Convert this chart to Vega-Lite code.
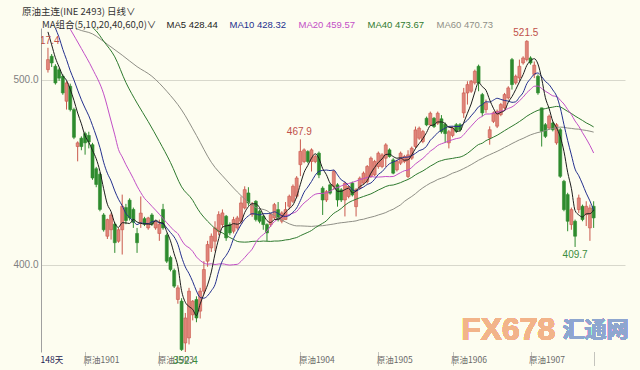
{
  "$schema": "https://vega.github.io/schema/vega-lite/v6.json",
  "width": 584,
  "height": 324,
  "autosize": {"type": "none"},
  "padding": {"left": 41, "top": 28, "right": 15, "bottom": 18},
  "background": "#fdfdf0",
  "config": {"view": {"stroke": null}, "font": "Liberation Sans"},
  "title": {
    "text": "原油主连(INE 2493)  日线∨",
    "anchor": "start",
    "frame": "group",
    "dx": -19,
    "offset": 3.5,
    "fontSize": 9.5,
    "fontWeight": "normal",
    "font": "Noto Sans CJK SC",
    "color": "#333333"
  },
  "data": {
    "values": [
      {"d":0,"o":505.6,"h":517.4,"l":504,"c":511,"m5":526,"m10":538,"m20":546,"m40":545,"m60":538},
      {"d":1,"o":512.8,"h":514,"l":507,"c":509.2,"m5":519,"m10":533,"m20":null,"m40":null,"m60":null},
      {"d":2,"o":507.4,"h":508.5,"l":497.5,"c":498.4,"m5":512,"m10":528,"m20":null,"m40":null,"m60":null},
      {"d":3,"o":505.5,"h":506.5,"l":499.5,"c":501,"m5":507,"m10":523,"m20":538,"m40":null,"m60":null},
      {"d":4,"o":502,"h":503,"l":492,"c":493,"m5":502.3,"m10":516.5,"m20":null,"m40":null,"m60":533},
      {"d":5,"o":488.5,"h":499.3,"l":484,"c":498.4,"m5":499.8,"m10":511,"m20":null,"m40":null,"m60":null},
      {"d":6,"o":496.6,"h":498,"l":483,"c":484,"m5":494.9,"m10":505,"m20":527.5,"m40":537,"m60":null},
      {"d":7,"o":484,"h":485,"l":468,"c":469,"m5":489,"m10":500,"m20":null,"m40":null,"m60":null},
      {"d":8,"o":464,"h":466.8,"l":456,"c":466,"m5":482.1,"m10":494.5,"m20":null,"m40":null,"m60":527.5},
      {"d":9,"o":468.5,"h":469.5,"l":462,"c":464,"m5":476.3,"m10":489.3,"m20":517,"m40":null,"m60":null},
      {"d":10,"o":471,"h":472,"l":459.6,"c":466,"m5":469.8,"m10":484.8,"m20":null,"m40":531,"m60":null},
      {"d":11,"o":470,"h":472,"l":463,"c":466.5,"m5":466.3,"m10":480.6,"m20":null,"m40":null,"m60":null},
      {"d":12,"o":465,"h":466,"l":446,"c":447,"m5":461.9,"m10":475.4,"m20":506,"m40":null,"m60":524.9},
      {"d":13,"o":452,"h":453,"l":442,"c":443.5,"m5":457.4,"m10":469.7,"m20":null,"m40":526.5,"m60":null},
      {"d":14,"o":449,"h":450,"l":429,"c":430,"m5":450.6,"m10":463.4,"m20":null,"m40":null,"m60":null},
      {"d":15,"o":427,"h":428,"l":418,"c":419,"m5":441.2,"m10":455.5,"m20":492.5,"m40":521,"m60":null},
      {"d":16,"o":415.5,"h":425,"l":414,"c":424.5,"m5":432.8,"m10":449.6,"m20":null,"m40":null,"m60":519.3},
      {"d":17,"o":419,"h":428,"l":413.7,"c":427,"m5":428.8,"m10":445.4,"m20":477.8,"m40":null,"m60":null},
      {"d":18,"o":422,"h":423,"l":406.5,"c":412,"m5":422.5,"m10":440,"m20":470.3,"m40":512.5,"m60":null},
      {"d":19,"o":412.8,"h":420,"l":412,"c":419,"m5":420.3,"m10":435.5,"m20":462.4,"m40":null,"m60":null},
      {"d":20,"o":419,"h":438,"l":405.6,"c":431.7,"m5":422.8,"m10":432,"m20":458.4,"m40":null,"m60":513.4},
      {"d":21,"o":431,"h":433,"l":422,"c":424,"m5":422.7,"m10":427.8,"m20":454.2,"m40":498.6,"m60":null},
      {"d":22,"o":435,"h":436,"l":424,"c":425.4,"m5":422.4,"m10":425.6,"m20":450.5,"m40":null,"m60":null},
      {"d":23,"o":430,"h":431,"l":420,"c":423,"m5":424.6,"m10":423.6,"m20":446.7,"m40":null,"m60":null},
      {"d":24,"o":417,"h":420,"l":406.5,"c":412,"m5":423.2,"m10":421.8,"m20":442.6,"m40":487.5,"m60":507.2},
      {"d":25,"o":423,"h":437,"l":420,"c":428,"m5":422.5,"m10":422.7,"m20":439.1,"m40":null,"m60":null},
      {"d":26,"o":425,"h":426,"l":421,"c":422,"m5":422.1,"m10":422.4,"m20":436,"m40":null,"m60":null},
      {"d":27,"o":420,"h":426,"l":419,"c":425.4,"m5":422.1,"m10":422.3,"m20":433.9,"m40":477.5,"m60":null},
      {"d":28,"o":427,"h":428,"l":421,"c":422,"m5":421.9,"m10":423.3,"m20":431.7,"m40":null,"m60":502},
      {"d":29,"o":420,"h":424,"l":419,"c":423.6,"m5":424.2,"m10":423.7,"m20":429.6,"m40":null,"m60":null},
      {"d":30,"o":417,"h":424.5,"l":413,"c":422,"m5":423,"m10":422.7,"m20":427.4,"m40":466.8,"m60":null},
      {"d":31,"o":430,"h":433,"l":419,"c":420,"m5":422.6,"m10":422.3,"m20":425.1,"m40":null,"m60":null},
      {"d":32,"o":416,"h":417,"l":401,"c":402,"m5":417.9,"m10":420,"m20":422.8,"m40":null,"m60":493.9},
      {"d":33,"o":404,"h":405,"l":396.5,"c":397.5,"m5":413,"m10":417.5,"m20":420.6,"m40":455.4,"m60":null},
      {"d":34,"o":397,"h":398,"l":387.5,"c":388.5,"m5":406,"m10":415.1,"m20":418.5,"m40":null,"m60":null},
      {"d":35,"o":381.3,"h":389,"l":379,"c":387.6,"m5":399.1,"m10":411.1,"m20":416.9,"m40":null,"m60":null},
      {"d":36,"o":380.4,"h":382,"l":353.5,"c":354.2,"m5":386,"m10":404.3,"m20":413.4,"m40":442.2,"m60":483.8},
      {"d":37,"o":357.8,"h":374,"l":352.4,"c":371.3,"m5":379.8,"m10":398.9,"m20":410.6,"m40":null,"m60":null},
      {"d":38,"o":360.5,"h":387.6,"l":357,"c":385.8,"m5":377.5,"m10":395.3,"m20":409.3,"m40":null,"m60":null},
      {"d":39,"o":373,"h":381,"l":370,"c":380.4,"m5":375.9,"m10":390.9,"m20":407.3,"m40":434.9,"m60":null},
      {"d":40,"o":381.3,"h":383,"l":369,"c":371.3,"m5":372.6,"m10":385.9,"m20":404.3,"m40":431.4,"m60":470},
      {"d":41,"o":375,"h":387.6,"l":371,"c":385.8,"m5":378.9,"m10":382.4,"m20":402.4,"m40":428.3,"m60":null},
      {"d":42,"o":385.8,"h":402,"l":384,"c":397.5,"m5":384.2,"m10":382,"m20":401,"m40":425.8,"m60":null},
      {"d":43,"o":402,"h":413,"l":399,"c":411,"m5":389.2,"m10":383.3,"m20":400.4,"m40":423.6,"m60":null},
      {"d":44,"o":409.2,"h":417,"l":407,"c":415.5,"m5":396.2,"m10":386,"m20":400.6,"m40":421.6,"m60":455.5},
      {"d":45,"o":412.8,"h":423.6,"l":407.4,"c":420,"m5":406,"m10":389.3,"m20":400.2,"m40":419.7,"m60":null},
      {"d":46,"o":418,"h":429,"l":416,"c":427.2,"m5":414.2,"m10":396.6,"m20":400.5,"m40":418.3,"m60":null},
      {"d":47,"o":421.8,"h":430,"l":420,"c":428.1,"m5":420.4,"m10":402.3,"m20":400.6,"m40":417.3,"m60":null},
      {"d":48,"o":426.3,"h":427,"l":413,"c":414.6,"m5":421.1,"m10":405.1,"m20":400.2,"m40":416,"m60":446},
      {"d":49,"o":421.8,"h":423,"l":416,"c":417.3,"m5":421.4,"m10":408.8,"m20":399.9,"m40":414.8,"m60":null},
      {"d":50,"o":418.2,"h":426,"l":417,"c":424.5,"m5":422.3,"m10":414.2,"m20":400.1,"m40":413.8,"m60":null},
      {"d":51,"o":420,"h":426.5,"l":419,"c":425.4,"m5":422,"m10":418.1,"m20":400.3,"m40":412.7,"m60":null},
      {"d":52,"o":423.6,"h":437,"l":422,"c":433.5,"m5":423.1,"m10":421.7,"m20":401.9,"m40":412.4,"m60":437.5},
      {"d":53,"o":430.8,"h":442.5,"l":430,"c":440.7,"m5":428.3,"m10":424.7,"m20":404,"m40":412.3,"m60":null},
      {"d":54,"o":438.9,"h":442,"l":432,"c":433.5,"m5":431.5,"m10":426.5,"m20":406.3,"m40":412.4,"m60":null},
      {"d":55,"o":427.2,"h":434,"l":426,"c":432.6,"m5":433.1,"m10":427.7,"m20":408.5,"m40":412.7,"m60":null},
      {"d":56,"o":434.4,"h":435,"l":423.5,"c":424.5,"m5":433,"m10":427.5,"m20":412.1,"m40":412.8,"m60":431},
      {"d":57,"o":429,"h":430,"l":422.5,"c":423.6,"m5":431,"m10":427,"m20":414.7,"m40":412.7,"m60":null},
      {"d":58,"o":426.3,"h":427,"l":419,"c":421.8,"m5":427.2,"m10":427.7,"m20":416.4,"m40":412.9,"m60":null},
      {"d":59,"o":421.8,"h":422.5,"l":412.8,"c":417.3,"m5":424,"m10":427.7,"m20":418.3,"m40":412.8,"m60":429.3},
      {"d":60,"o":421.8,"h":428,"l":420.5,"c":427.2,"m5":422.9,"m10":428,"m20":421.1,"m40":412.7,"m60":427.9},
      {"d":61,"o":425.4,"h":433.5,"l":424.5,"c":432.6,"m5":424.5,"m10":428.7,"m20":423.4,"m40":412.9,"m60":426.7},
      {"d":62,"o":429.9,"h":434,"l":423.5,"c":424.5,"m5":424.7,"m10":427.8,"m20":424.8,"m40":412.9,"m60":425.4},
      {"d":63,"o":423.6,"h":429,"l":422.5,"c":428.1,"m5":425.9,"m10":426.6,"m20":425.7,"m40":413.1,"m60":424.3},
      {"d":64,"o":424.5,"h":434,"l":424.5,"c":429.9,"m5":428.5,"m10":426.2,"m20":426.4,"m40":413.5,"m60":423.2},
      {"d":65,"o":431.7,"h":438,"l":430,"c":437.1,"m5":430.4,"m10":426.7,"m20":427.2,"m40":413.7,"m60":422.2},
      {"d":66,"o":434.4,"h":443.5,"l":433.5,"c":442.5,"m5":432.4,"m10":428.5,"m20":428,"m40":414.3,"m60":421.5},
      {"d":67,"o":437.1,"h":448,"l":436,"c":447,"m5":436.9,"m10":430.8,"m20":428.9,"m40":414.8,"m60":421.1},
      {"d":68,"o":454.2,"h":467.9,"l":448,"c":461.4,"m5":443.6,"m10":434.8,"m20":431.3,"m40":415.8,"m60":421.1},
      {"d":69,"o":455.9,"h":463,"l":455,"c":462.2,"m5":450,"m10":439.3,"m20":433.5,"m40":416.7,"m60":421},
      {"d":70,"o":461.3,"h":462,"l":455,"c":455.9,"m5":453.8,"m10":442.1,"m20":435.1,"m40":417.6,"m60":420.9},
      {"d":71,"o":455.9,"h":463,"l":450.5,"c":462.2,"m5":457.7,"m10":445.1,"m20":436.9,"m40":418.6,"m60":420.8},
      {"d":72,"o":455.9,"h":459.5,"l":455,"c":458.6,"m5":460.1,"m10":448.5,"m20":438.2,"m40":420.1,"m60":421},
      {"d":73,"o":460.4,"h":461.3,"l":446.9,"c":448.7,"m5":457.5,"m10":450.6,"m20":438.6,"m40":421.3,"m60":421.1},
      {"d":74,"o":441.5,"h":442.5,"l":427,"c":435.1,"m5":452.1,"m10":451.1,"m20":438.7,"m40":422.5,"m60":421.2},
      {"d":75,"o":435.1,"h":440.5,"l":434,"c":439.6,"m5":448.8,"m10":451.3,"m20":439,"m40":423.8,"m60":421.5},
      {"d":76,"o":443.3,"h":444,"l":438,"c":438.8,"m5":444.2,"m10":451,"m20":439.8,"m40":426,"m60":421.8},
      {"d":77,"o":442.4,"h":451.4,"l":440.6,"c":450.5,"m5":442.5,"m10":451.3,"m20":441.1,"m40":427.9,"m60":422.1},
      {"d":78,"o":443.3,"h":444.2,"l":431.5,"c":435.1,"m5":439.8,"m10":448.7,"m20":441.8,"m40":429.1,"m60":422.5},
      {"d":79,"o":440.6,"h":441.5,"l":434,"c":435.1,"m5":439.8,"m10":446,"m20":442.7,"m40":430.5,"m60":422.8},
      {"d":80,"o":435.1,"h":445,"l":426.2,"c":444.2,"m5":440.7,"m10":444.8,"m20":443.5,"m40":432.3,"m60":423},
      {"d":81,"o":437,"h":443,"l":436,"c":442.4,"m5":441.5,"m10":442.8,"m20":444,"m40":433.7,"m60":423.3},
      {"d":82,"o":444.2,"h":445,"l":437,"c":437.8,"m5":438.9,"m10":440.7,"m20":444.6,"m40":434.7,"m60":423.5},
      {"d":83,"o":431.5,"h":441.5,"l":426.2,"c":440.6,"m5":440,"m10":439.9,"m20":445.3,"m40":435.5,"m60":423.8},
      {"d":84,"o":441.5,"h":447.8,"l":440.6,"c":446.9,"m5":442.4,"m10":441.1,"m20":446.1,"m40":436.3,"m60":424.4},
      {"d":85,"o":444.2,"h":450.5,"l":443.3,"c":449.6,"m5":443.5,"m10":442.1,"m20":446.7,"m40":437,"m60":424.7},
      {"d":86,"o":445,"h":454,"l":444,"c":453.2,"m5":445.6,"m10":443.5,"m20":447.3,"m40":437.7,"m60":425.3},
      {"d":87,"o":447.8,"h":458.6,"l":447,"c":457.7,"m5":449.6,"m10":444.3,"m20":447.8,"m40":438.4,"m60":425.8},
      {"d":88,"o":448.7,"h":456.8,"l":448,"c":455.9,"m5":452.7,"m10":446.3,"m20":447.5,"m40":439.4,"m60":426.3},
      {"d":89,"o":453.2,"h":461.3,"l":452,"c":460.4,"m5":455.4,"m10":448.9,"m20":447.5,"m40":440.5,"m60":427},
      {"d":90,"o":453.2,"h":460.4,"l":452.3,"c":459.5,"m5":457.3,"m10":450.4,"m20":447.6,"m40":441.4,"m60":427.6},
      {"d":91,"o":457.7,"h":465.8,"l":453,"c":464.9,"m5":459.7,"m10":452.7,"m20":447.8,"m40":442.4,"m60":428.3},
      {"d":92,"o":462.2,"h":463,"l":458,"c":458.6,"m5":459.9,"m10":454.7,"m20":447.7,"m40":443,"m60":429.3},
      {"d":93,"o":456.8,"h":457.7,"l":449,"c":449.6,"m5":458.6,"m10":455.6,"m20":447.8,"m40":443.2,"m60":430.1},
      {"d":94,"o":451.4,"h":456.8,"l":450.5,"c":455.9,"m5":457.7,"m10":456.5,"m20":448.8,"m40":443.8,"m60":431.3},
      {"d":95,"o":455,"h":461.3,"l":454,"c":460.4,"m5":457.9,"m10":457.6,"m20":449.9,"m40":444.5,"m60":432.5},
      {"d":96,"o":455.9,"h":459.5,"l":455,"c":458.6,"m5":456.6,"m10":458.2,"m20":450.9,"m40":445.4,"m60":434.3},
      {"d":97,"o":447.8,"h":462,"l":446.9,"c":459.5,"m5":456.8,"m10":458.3,"m20":451.3,"m40":446.2,"m60":435.7},
      {"d":98,"o":457.7,"h":464,"l":456.8,"c":463.1,"m5":459.5,"m10":459.1,"m20":452.7,"m40":447.3,"m60":437},
      {"d":99,"o":464,"h":474.8,"l":463,"c":473,"m5":462.9,"m10":460.3,"m20":454.6,"m40":448.7,"m60":438.5},
      {"d":100,"o":468.5,"h":474.8,"l":467.6,"c":473.9,"m5":465.6,"m10":461.8,"m20":456.1,"m40":449.8,"m60":440.2},
      {"d":101,"o":466.7,"h":473,"l":465.8,"c":472.1,"m5":468.3,"m10":462.5,"m20":457.6,"m40":450.8,"m60":441.7},
      {"d":102,"o":479.3,"h":480.2,"l":475,"c":475.7,"m5":471.6,"m10":464.2,"m20":459.5,"m40":452.1,"m60":443},
      {"d":103,"o":475.7,"h":482.9,"l":475,"c":482,"m5":475.3,"m10":467.4,"m20":461.5,"m40":453.4,"m60":444.2},
      {"d":104,"o":479.3,"h":480,"l":474,"c":474.8,"m5":475.7,"m10":469.3,"m20":462.9,"m40":454.5,"m60":445.1},
      {"d":105,"o":476.6,"h":482.9,"l":475.7,"c":482,"m5":477.3,"m10":471.5,"m20":464.6,"m40":455.7,"m60":446.2},
      {"d":106,"o":479,"h":481,"l":471,"c":472,"m5":477.3,"m10":472.8,"m20":465.5,"m40":456.4,"m60":446.9},
      {"d":107,"o":476,"h":477,"l":466,"c":471,"m5":476.4,"m10":474,"m20":466.2,"m40":457,"m60":447.6},
      {"d":108,"o":466,"h":473,"l":463,"c":472,"m5":474.4,"m10":474.9,"m20":467,"m40":457.3,"m60":448.6},
      {"d":109,"o":470,"h":475,"l":469,"c":474,"m5":474.2,"m10":475,"m20":467.7,"m40":457.6,"m60":449.6},
      {"d":110,"o":475.8,"h":476.7,"l":471.3,"c":472.2,"m5":472.2,"m10":474.8,"m20":468.3,"m40":458,"m60":450.3},
      {"d":111,"o":475.8,"h":476.7,"l":472,"c":473.1,"m5":472.5,"m10":474.9,"m20":468.7,"m40":458.3,"m60":451.1},
      {"d":112,"o":482.2,"h":495.7,"l":479.5,"c":493,"m5":476.9,"m10":476.6,"m20":470.4,"m40":459.1,"m60":452.1},
      {"d":113,"o":493,"h":499.3,"l":486.7,"c":497.5,"m5":482,"m10":478.2,"m20":472.8,"m40":460.3,"m60":453.1},
      {"d":114,"o":493.9,"h":500,"l":493,"c":499.3,"m5":487,"m10":480.6,"m20":475,"m40":461.9,"m60":454.2},
      {"d":115,"o":498.4,"h":505.6,"l":497.5,"c":504.7,"m5":493.5,"m10":482.9,"m20":477.2,"m40":463.6,"m60":455.4},
      {"d":116,"o":507.4,"h":508.3,"l":493.9,"c":498.4,"m5":498.6,"m10":485.5,"m20":479.2,"m40":465.1,"m60":456.6},
      {"d":117,"o":492.1,"h":493,"l":480.4,"c":482.2,"m5":496.4,"m10":486.6,"m20":480.3,"m40":465.8,"m60":457.6},
      {"d":118,"o":484,"h":489.4,"l":482.2,"c":487.6,"m5":494.4,"m10":488.2,"m20":481.6,"m40":467.2,"m60":458.7},
      {"d":119,"o":468.7,"h":474.9,"l":465,"c":473.1,"m5":489.2,"m10":488.1,"m20":481.6,"m40":468.1,"m60":459.6},
      {"d":120,"o":477.6,"h":483,"l":476.7,"c":482.2,"m5":484.7,"m10":489.1,"m20":482,"m40":469.1,"m60":460.5},
      {"d":121,"o":475,"h":484,"l":474,"c":483.1,"m5":481.6,"m10":490.1,"m20":482.5,"m40":470.1,"m60":461.4},
      {"d":122,"o":481.3,"h":487.6,"l":480.4,"c":486.7,"m5":482.5,"m10":489.5,"m20":483.1,"m40":471.3,"m60":462.4},
      {"d":123,"o":484.9,"h":493,"l":484,"c":492.1,"m5":483.4,"m10":488.9,"m20":483.6,"m40":472.6,"m60":463.5},
      {"d":124,"o":490.3,"h":496.6,"l":489.4,"c":495.7,"m5":488,"m10":488.6,"m20":484.6,"m40":473.8,"m60":464.5},
      {"d":125,"o":511,"h":511.9,"l":494.8,"c":497.5,"m5":491,"m10":487.9,"m20":485.4,"m40":475,"m60":465.6},
      {"d":126,"o":498.4,"h":502.9,"l":497.5,"c":502,"m5":494.8,"m10":488.2,"m20":486.9,"m40":476.2,"m60":466.6},
      {"d":127,"o":501.1,"h":511,"l":499.3,"c":507.4,"m5":498.9,"m10":490.7,"m20":488.7,"m40":477.5,"m60":467.6},
      {"d":128,"o":509.2,"h":512.8,"l":508.3,"c":511.9,"m5":502.9,"m10":493.2,"m20":490.7,"m40":478.9,"m60":468.4},
      {"d":129,"o":511,"h":521.5,"l":510,"c":520.9,"m5":507.9,"m10":498,"m20":493.1,"m40":480.4,"m60":469.4},
      {"d":130,"o":511.9,"h":512.8,"l":508.3,"c":509.2,"m5":510.3,"m10":500.7,"m20":494.9,"m40":481.6,"m60":470.3},
      {"d":131,"o":503,"h":510,"l":501,"c":508,"m5":511.5,"m10":503.1,"m20":496.6,"m40":482.7,"m60":471},
      {"d":132,"o":502,"h":503,"l":492,"c":493,"m5":508.6,"m10":503.8,"m20":496.7,"m40":483.6,"m60":471.6},
      {"d":133,"o":484.9,"h":485,"l":464,"c":472.2,"m5":500.7,"m10":501.8,"m20":495.4,"m40":484.1,"m60":472},
      {"d":134,"o":475.8,"h":476.7,"l":468.6,"c":469.5,"m5":490.4,"m10":499.2,"m20":493.9,"m40":484.5,"m60":472.6},
      {"d":135,"o":474,"h":481.3,"l":473,"c":480.4,"m5":484.6,"m10":497.5,"m20":492.7,"m40":485,"m60":473.3},
      {"d":136,"o":476.7,"h":477.6,"l":472.2,"c":473.1,"m5":477.6,"m10":494.6,"m20":491.4,"m40":485.3,"m60":473.8},
      {"d":137,"o":466,"h":476.7,"l":465,"c":475.8,"m5":474.2,"m10":491.4,"m20":491.1,"m40":485.7,"m60":474.2},
      {"d":138,"o":473.1,"h":474,"l":447,"c":447.9,"m5":469.3,"m10":485,"m20":489.1,"m40":485.4,"m60":474.5},
      {"d":139,"o":445.2,"h":446,"l":429,"c":429.9,"m5":461.4,"m10":475.9,"m20":487,"m40":484.3,"m60":474.4},
      {"d":140,"o":438,"h":439,"l":418.2,"c":423.6,"m5":450.1,"m10":467.3,"m20":484,"m40":483,"m60":474},
      {"d":141,"o":421.8,"h":431,"l":419,"c":429.9,"m5":441.4,"m10":459.5,"m20":481.3,"m40":481.9,"m60":473.8},
      {"d":142,"o":423.6,"h":424.5,"l":409.7,"c":415.5,"m5":429.4,"m10":451.8,"m20":477.8,"m40":480.5,"m60":473.5},
      {"d":143,"o":429.9,"h":438,"l":428,"c":436.2,"m5":427,"m10":448.2,"m20":475,"m40":479.3,"m60":473.4},
      {"d":144,"o":431.7,"h":432.6,"l":423.6,"c":424.5,"m5":425.9,"m10":443.7,"m20":471.5,"m40":478.1,"m60":473},
      {"d":145,"o":427.2,"h":434.4,"l":421,"c":431.7,"m5":427.6,"m10":438.8,"m20":468.2,"m40":476.8,"m60":472.7},
      {"d":146,"o":420,"h":432.6,"l":413,"c":430.8,"m5":427.7,"m10":434.6,"m20":464.6,"m40":475.8,"m60":472.3},
      {"d":147,"o":431.7,"h":434.4,"l":420,"c":425.4,"m5":429.7,"m10":429.5,"m20":460.5,"m40":474.6,"m60":471.8}
    ]
  },
  "encoding": {
    "x": {
      "field": "d",
      "type": "quantitative",
      "scale": {"domain": [-0.53, 154.1], "nice": false, "zero": false},
      "axis": {
        "title": null,
        "values": [-0.53, 10, 30, 68, 89, 109, 130, 147],
        "labelExpr": "datum.value < 0 ? '148天' : datum.value == 10 ? '原油1901' : datum.value == 30 ? '原油1903' : datum.value == 68 ? '原油1904' : datum.value == 89 ? '原油1905' : datum.value == 109 ? '原油1906' : datum.value == 130 ? '原油1907' : ''",
        "domain": false,
        "grid": false,
        "ticks": true,
        "tickSize": 14,
        "tickDash": [1, 1],
        "tickColor": {"condition": {"test": "datum.value < 0", "value": "transparent"}, "value": "#8a8a8a"},
        "labelAlign": "left",
        "labelBaseline": "top",
        "labelOffset": {"condition": {"test": "datum.value < 0", "value": -6}, "value": -2},
        "labelPadding": -11,
        "labelFont": "Noto Sans CJK SC",
        "labelFontSize": 8.5,
        "labelColor": {"condition": {"test": "datum.value < 0", "value": "#1a2050"}, "value": "#6a6a6a"},
        "labelOverlap": false,
        "labelBound": false,
        "labelFlush": false
      }
    },
    "y": {
      "type": "quantitative",
      "scale": {"domain": [352.9, 528.1], "nice": false, "zero": false},
      "axis": {
        "title": null,
        "values": [400, 500],
        "format": ".1f",
        "ticks": false,
        "labelPadding": 3,
        "labelFontSize": 10,
        "labelColor": "#808080",
        "domainColor": "#a0a0a0",
        "gridColor": "#d8d8cc",
        "grid": true
      }
    }
  },
  "layer": [
    {
      "mark": {"type": "rule", "strokeWidth": 1, "clip": true},
      "encoding": {
        "y": {"field": "l", "type": "quantitative"},
        "y2": {"field": "h"},
        "stroke": {"condition": {"test": "datum.c >= datum.o", "value": "#c9584c"}, "value": "#2e8b2e"}
      }
    },
    {
      "mark": {"type": "bar", "size": 3, "strokeWidth": 0.6, "clip": true},
      "encoding": {
        "y": {"field": "o", "type": "quantitative"},
        "y2": {"field": "c"},
        "fill": {"condition": {"test": "datum.c >= datum.o", "value": "#e0857a"}, "value": "#2e8b2e"},
        "stroke": {"condition": {"test": "datum.c >= datum.o", "value": "#c9584c"}, "value": "#2e8b2e"}
      }
    },
    {
      "mark": {"type": "line", "strokeWidth": 1, "interpolate": "monotone", "clip": true, "invalid": "filter"},
      "encoding": {
        "y": {"field": "m60", "type": "quantitative"},
        "color": {
          "datum": "MA60 470.73",
          "type": "nominal",
          "scale": {
            "domain": ["MA5 428.44", "MA10 428.32", "MA20 459.57", "MA40 473.67", "MA60 470.73"],
            "range": ["#1c1c1c", "#24308e", "#c24fc6", "#2f7a2f", "#8f8f86"]
          },
          "legend": {
            "orient": "none",
            "legendX": 1,
            "legendY": -8.5,
            "direction": "horizontal",
            "title": "MA组合(5,10,20,40,60,0)∨",
            "titleOrient": "left",
            "titleFont": "Noto Sans CJK SC",
            "titleFontSize": 9.5,
            "titleFontWeight": "normal",
            "titleColor": "#333333",
            "titlePadding": 0,
            "labelFont": "Liberation Sans",
            "labelFontSize": 9.5,
            "labelOffset": 0,
            "labelLimit": 0,
            "labelColor": {"expr": "scale('color', datum.value)"},
            "symbolSize": 0,
            "symbolStrokeWidth": 0,
            "symbolOpacity": 0,
            "columnPadding": 2
          }
        }
      }
    },
    {
      "mark": {"type": "line", "strokeWidth": 1, "interpolate": "monotone", "clip": true, "invalid": "filter"},
      "encoding": {
        "y": {"field": "m40", "type": "quantitative"},
        "color": {"datum": "MA40 473.67", "type": "nominal"}
      }
    },
    {
      "mark": {"type": "line", "strokeWidth": 1, "interpolate": "monotone", "clip": true, "invalid": "filter"},
      "encoding": {
        "y": {"field": "m20", "type": "quantitative"},
        "color": {"datum": "MA20 459.57", "type": "nominal"}
      }
    },
    {
      "mark": {"type": "line", "strokeWidth": 1, "interpolate": "monotone", "clip": true, "invalid": "filter"},
      "encoding": {
        "y": {"field": "m10", "type": "quantitative"},
        "color": {"datum": "MA10 428.32", "type": "nominal"}
      }
    },
    {
      "mark": {"type": "line", "strokeWidth": 1, "interpolate": "monotone", "clip": true, "invalid": "filter"},
      "encoding": {
        "y": {"field": "m5", "type": "quantitative"},
        "color": {"datum": "MA5 428.44", "type": "nominal"}
      }
    },
    {
      "transform": [{"filter": "datum.d == 0 || datum.d == 68 || datum.d == 129"}],
      "mark": {"type": "text", "dy": -7, "dx": -1, "fontSize": 10, "fill": "#c0504a", "clip": true},
      "encoding": {
        "y": {"field": "h", "type": "quantitative"},
        "text": {"field": "h", "type": "quantitative", "format": ".1f"}
      }
    },
    {
      "transform": [{"filter": "datum.d == 37 || datum.d == 142"}],
      "mark": {"type": "text", "dy": 8, "fontSize": 10, "fill": "#3c8c3c"},
      "encoding": {
        "y": {"field": "l", "type": "quantitative"},
        "text": {"field": "l", "type": "quantitative", "format": ".1f"}
      }
    },
    {
      "mark": {"type": "text", "text": "FX678", "font": "Liberation Sans", "fontWeight": "bold", "fontSize": 32, "fill": "#f2b48a", "opacity": 0.5, "align": "center", "baseline": "middle"},
      "encoding": {"x": {"datum": 124}, "y": {"datum": 365}}
    },
    {
      "mark": {"type": "text", "text": "汇通网", "font": "Noto Sans CJK SC", "fontWeight": "bold", "fontSize": 22, "fill": "#8ea6cf", "opacity": 0.5, "align": "center", "baseline": "middle"},
      "encoding": {"x": {"datum": 147.5}, "y": {"datum": 365}}
    }
  ]
}
